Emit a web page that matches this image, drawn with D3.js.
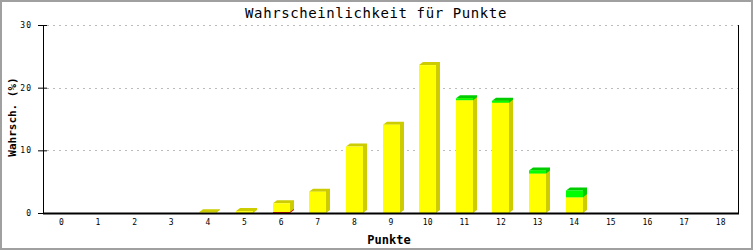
<!DOCTYPE html>
<html>
<head>
<meta charset="utf-8">
<script src="https://cdn.jsdelivr.net/npm/d3@7"></script>
<style>
  body { margin: 0; background: #fff; }
  svg text { font-family: "DejaVu Sans Mono", monospace; }
</style>
</head>
<body>
<div id="chart"></div>
<script>
// Punkte 0..18
const categories = d3.range(0, 19).map(String);
// Wahrscheinlichkeit in %, pro Reihe (gestapelt: rot unten, gelb, grün oben)
const redValues    = [0, 0, 0, 0, 0, 0, 0.15, 0, 0, 0, 0, 0, 0, 0, 0, 0, 0, 0, 0];
const yellowValues = [0, 0, 0, 0, 0.1, 0.3, 1.4, 3.4, 10.6, 14.1, 23.6, 18.0, 17.6, 6.3, 2.5, 0, 0, 0, 0];
const greenValues  = [0, 0, 0, 0, 0, 0, 0, 0, 0, 0, 0, 0.3, 0.3, 0.5, 1.1, 0, 0, 0, 0];
const yTicks = [0, 10, 20, 30];

const series = [
  {key: "red", values: redValues, front: "#ff0000", side: "#cc0000"},
  {key: "yellow", values: yellowValues, front: "#ffff00", side: "#cccc00"},
  {key: "green", values: greenValues, front: "#00ff00", side: "#00cc00"}
];

const W = 753, H = 250;
const margin = {top: 25, right: 14, bottom: 37, left: 43};
const width = W - margin.left - margin.right;
const height = H - margin.top - margin.bottom;

const svg = d3.select("#chart").append("svg")
  .attr("width", W)
  .attr("height", H);

svg.append("rect")
  .attr("x", 1).attr("y", 1)
  .attr("width", W - 2).attr("height", H - 2)
  .attr("fill", "#fff")
  .attr("stroke", "#a0a0a0")
  .attr("stroke-width", 2);

const g = svg.append("g")
  .attr("transform", "translate(" + margin.left + "," + margin.top + ")");

const x = d3.scaleBand()
  .domain(categories)
  .range([0, width]);

const y = d3.scaleLinear()
  .domain([0, 30])
  .range([height, 0]);

// Gitter
g.append("g")
  .attr("class", "grid")
  .selectAll("line")
  .data(yTicks.filter(d => d > 0))
  .enter().append("line")
    .attr("x1", 4).attr("x2", width)
    .attr("y1", d => Math.round(y(d)) + 0.5)
    .attr("y2", d => Math.round(y(d)) + 0.5)
    .attr("stroke", "#bbbbbb")
    .attr("stroke-dasharray", "2,4");

// gestapelte Balken mit Schatten
const stack = d3.stack()
  .keys(series.map(s => s.key))
  (categories.map((c, i) => {
    const row = {cat: c};
    series.forEach(s => { row[s.key] = s.values[i]; });
    return row;
  }));

const barW = 17, dx = 4, dy = 3;

stack.forEach((layer, si) => {
  const s = series[si];
  const grp = g.append("g").attr("class", "bars-" + s.key);
  layer.forEach((d, i) => {
    if (d[1] - d[0] <= 0) return;
    const x0 = Math.round(x(categories[i]) + x.bandwidth() / 2 - 8.5);
    const yTop = y(d[1]);
    const yBot = y(d[0]);
    const x1 = x0 + barW;
    grp.append("polygon")
      .attr("points", [
        [x0, yTop], [x0 + dx, yTop - dy], [x1 + dx, yTop - dy],
        [x1 + dx, yBot - dy], [x1, yBot], [x1, yTop]
      ].map(p => p.join(",")).join(" "))
      .attr("fill", s.side);
    grp.append("rect")
      .attr("x", x0)
      .attr("y", yTop)
      .attr("width", barW)
      .attr("height", yBot - yTop)
      .attr("fill", s.front);
  });
});

// Achsen
const yAxis = d3.axisLeft(y).tickValues(yTicks).tickSize(5).tickPadding(5);
const yg = g.append("g").attr("class", "y axis").call(yAxis);
yg.select(".domain").remove();
yg.selectAll(".tick line").attr("x2", 4).attr("x1", -5).attr("stroke", "#000");
yg.selectAll(".tick text").attr("x", -11).attr("font-size", 8)
  .attr("font-family", "DejaVu Sans Mono").attr("letter-spacing", 1);
g.append("line")
  .attr("x1", 0.5).attr("x2", 0.5)
  .attr("y1", 0).attr("y2", height)
  .attr("stroke", "#000");

g.append("line")
  .attr("x1", width - 0.5).attr("x2", width - 0.5)
  .attr("y1", 0).attr("y2", height)
  .attr("stroke", "#000");

const xAxis = d3.axisBottom(x).tickSize(0).tickPadding(6);
const xg = g.append("g")
  .attr("class", "x axis")
  .attr("transform", "translate(0," + height + ")")
  .call(xAxis);
xg.select(".domain").remove();
xg.selectAll(".tick text").attr("font-size", 8).attr("font-family", "DejaVu Sans Mono");
g.append("line")
  .attr("x1", 0).attr("x2", width)
  .attr("y1", height + 0.5).attr("y2", height + 0.5)
  .attr("stroke", "#000")
  .attr("stroke-width", 2);

// Titel und Achsenbeschriftungen
svg.append("text")
  .attr("x", 376).attr("y", 18)
  .attr("text-anchor", "middle")
  .attr("font-size", 14)
  .attr("letter-spacing", 0.6)
  .text("Wahrscheinlichkeit für Punkte");

svg.append("text")
  .attr("x", 389).attr("y", 244)
  .attr("text-anchor", "middle")
  .attr("font-size", 12)
  .attr("font-weight", "bold")
  .text("Punkte");

svg.append("text")
  .attr("transform", "translate(16,117) rotate(-90)")
  .attr("text-anchor", "middle")
  .attr("font-size", 11)
  .attr("font-weight", "bold")
  .text("Wahrsch. (%)");
</script>
</body>
</html>
